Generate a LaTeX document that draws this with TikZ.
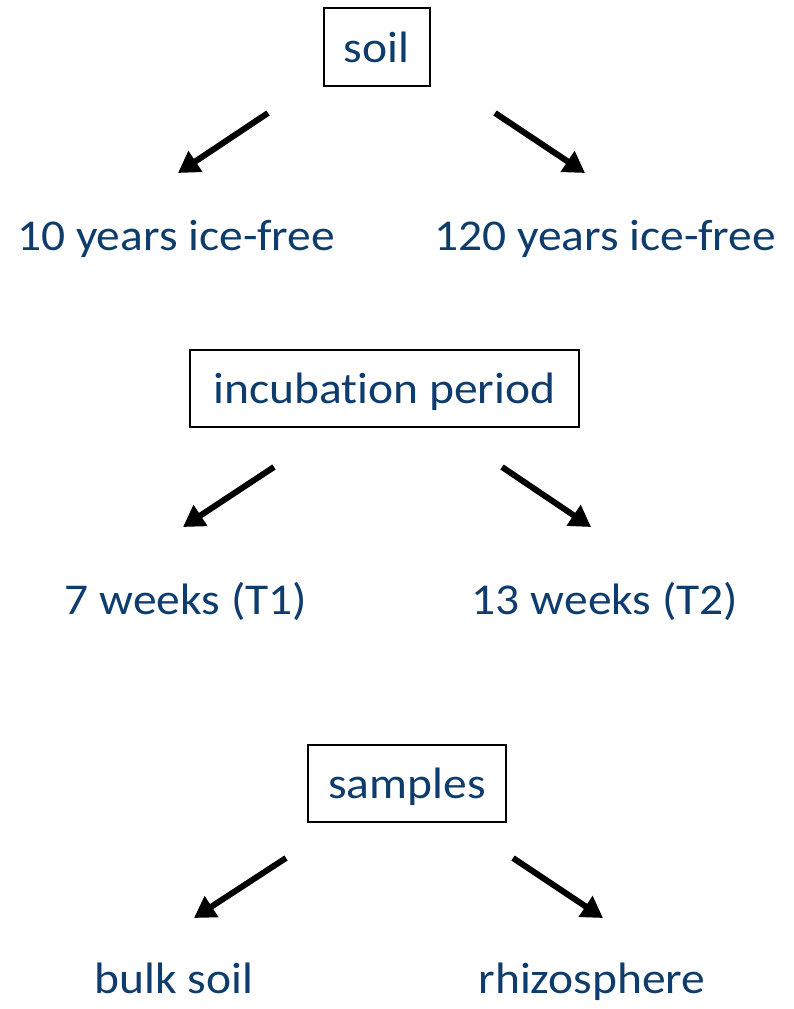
\documentclass[tikz,border=0pt]{standalone}
\usepackage{fontspec}
\setmainfont{Carlito}[FakeStretch=1.08]
\usetikzlibrary{arrows.meta}
\definecolor{textblue}{RGB}{14,60,108}
\tikzset{
  stepbox/.style={rectangle, draw=black, line width=2pt, fill=white, inner sep=0pt,
                  text=textblue, font=\fontsize{44}{52}\selectfont,
                  text height=31pt, text depth=0pt},
  steplabel/.style={anchor=base, inner sep=0pt, text=textblue,
                    font=\fontsize{44}{52}\selectfont},
  splitarrow/.style={-{Triangle[length=21pt, width=24pt]}, line width=6pt, black},
}
\begin{document}
\begin{tikzpicture}[x=1pt, y=-1pt]
\useasboundingbox (0,0) rectangle (794,1009);
% level 1: soil
\node[stepbox, minimum width=106pt, minimum height=78pt] (soil) at (376.5,46.5) {soil};
\node[steplabel] (young) at (176,250) {10 years ice-free};
\node[steplabel] (old) at (605,250) {120 years ice-free};
\coordinate (soilL) at (268,113); \coordinate (youngT) at (178,173);
\coordinate (soilR) at (495,113); \coordinate (oldT) at (585,173);
\draw[splitarrow] (soilL) -- (youngT);
\draw[splitarrow] (soilR) -- (oldT);
% level 2: incubation
\node[stepbox, minimum width=389pt, minimum height=77pt] (incub) at (384.5,388) {incubat\kern0pt ion period};
\node[steplabel] (tone) at (186,614) {7 weeks (T1)};
\node[steplabel] (ttwo) at (605,614) {13 weeks (T2)};
\coordinate (incubL) at (274,467); \coordinate (toneT) at (183,527);
\coordinate (incubR) at (502,467); \coordinate (ttwoT) at (591,527);
\draw[splitarrow] (incubL) -- (toneT);
\draw[splitarrow] (incubR) -- (ttwoT);
% level 3: samples
\node[stepbox, minimum width=198pt, minimum height=77pt] (samples) at (407,783) {samples};
\node[steplabel] (bulk) at (174,993) {bulk soil};
\node[steplabel] (rhizo) at (592,993) {rhizosphere};
\coordinate (samplesL) at (286,858); \coordinate (bulkT) at (194,918);
\coordinate (samplesR) at (513,858); \coordinate (rhizoT) at (603,918);
\draw[splitarrow] (samplesL) -- (bulkT);
\draw[splitarrow] (samplesR) -- (rhizoT);
\end{tikzpicture}
\end{document}
